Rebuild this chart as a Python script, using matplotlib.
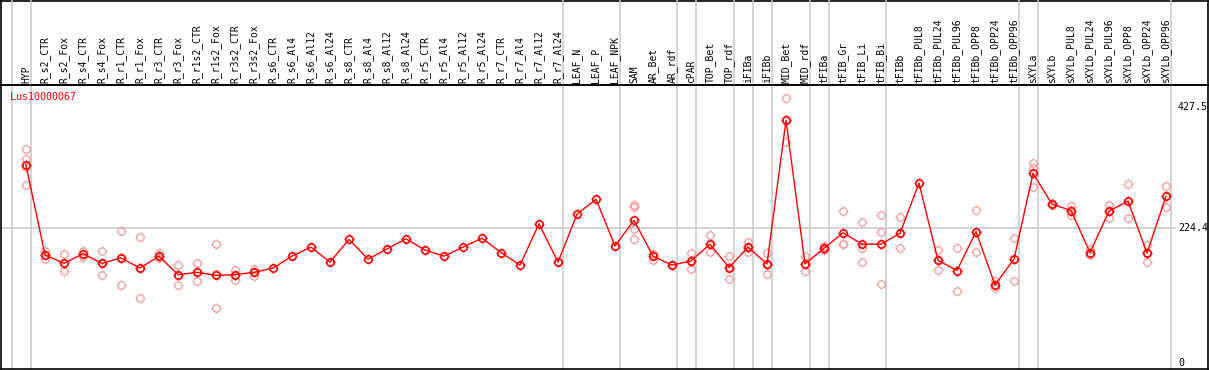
import matplotlib
matplotlib.use("Agg")
import matplotlib.pyplot as plt
from matplotlib.path import Path
import numpy as np

nan = np.nan

labels = ["HYP", "R_s2_CTR", "R_s2_Fox", "R_s4_CTR", "R_s4_Fox", "R_r1_CTR", "R_r1_Fox",
          "R_r3_CTR", "R_r3_Fox", "R_r1s2_CTR", "R_r1s2_Fox", "R_r3s2_CTR", "R_r3s2_Fox",
          "R_s6_CTR", "R_s6_Al4", "R_s6_Al12", "R_s6_Al24", "R_s8_CTR", "R_s8_Al4", "R_s8_Al12",
          "R_s8_Al24", "R_r5_CTR", "R_r5_Al4", "R_r5_Al12", "R_r5_Al24", "R_r7_CTR", "R_r7_Al4",
          "R_r7_Al12", "R_r7_Al24", "LEAF_N", "LEAF_P", "LEAF_NPK", "SAM", "AR_Bet", "AR_rdf",
          "cPAR", "TOP_Bet", "TOP_rdf", "iFIBa", "iFIBb", "MID_Bet", "MID_rdf", "tFIBa",
          "tFIB_Gr", "tFIB_Li", "tFIB_Bi", "tFIBb", "tFIBb_PUL8", "tFIBb_PUL24", "tFIBb_PUL96",
          "tFIBb_OPP8", "tFIBb_OPP24", "tFIBb_OPP96", "sXYLa", "sXYLb", "sXYLb_PUL8",
          "sXYLb_PUL24", "sXYLb_PUL96", "sXYLb_OPP8", "sXYLb_OPP24", "sXYLb_OPP96"]

means = [330, 180, 166, 182, 166, 175, 158, 178, 147, 151, 146, 147, 151,
         158, 178, 193, 168, 206, 173, 190, 207, 188, 178, 193, 208, 184, 163,
         232, 168, 248, 273, 195, 238, 178, 163, 170, 198, 159, 193, 165, 405,
         165, 191, 217, 198, 198, 216, 300, 171, 154, 219, 130, 173, 316, 265,
         254, 184, 253, 270, 183, 278]

rep1 = [357, 187, 181, 187, 187, 220, 210, 183, 163, 166, 199, 155, 156.5,
        nan, nan, nan, nan, nan, nan, nan, nan, nan, nan, nan, nan, nan, nan,
        nan, nan, nan, nan, nan, 263, 181.5, 163, 183, 213, 178, 201, 183, 442,
        178, 195.5, 253, 234.5, 246.7, 243, nan, 187.7, 191, 254.5, 136.5, 207.8, 333, 266,
        261.8, 190, 262.9, 298, 197.1, 294.6]
rep2 = [341, 180, 166, 182, 166, 175, 158, 178, 147, 151, 148, 147, 151,
        nan, nan, nan, nan, nan, nan, nan, nan, nan, nan, nan, nan, nan, nan,
        nan, nan, nan, nan, nan, 260, 181.5, 163, 170, 198, 160, 192, 164, 405,
        165, 190, 199, 191, 217.8, 216, nan, 171, 154, 219, 130, 172.7, 326, 264,
        254.5, 184, 254, 269.6, 183.2, 278]
rep3 = [327, 173, 153, 176, 146, 130, 107.5, 175, 130, 136, 91, 138, 145,
        nan, nan, nan, nan, nan, nan, nan, nan, nan, nan, nan, nan, nan, nan,
        nan, nan, nan, nan, nan, 224, 171.5, 163, 156, 185, 139, 185, 148, 368,
        152.6, 187.5, 199, 167.7, 130.9, 191, nan, 154.3, 119, 184.4, 124.8, 136.5, 293, 264,
        247.3, 180, 241.2, 241.7, 168.7, 259.6]
rep4 = [296] + [nan] * 31 + [206] + [nan] * 28

group_ends = [-1, 0, 28, 31, 34, 35, 37, 38, 39, 41, 42, 45, 52, 53, 60]
ref_ticks = [427.5, 224.4, 0]

W, H = 1209, 370
fig = plt.figure(figsize=(W / 100, H / 100), dpi=100)

# header box behind, plot area on top: x 1..1208 px, y 85..369 px (from top)
hdr = fig.add_axes([1 / W, 285 / H, 1207 / W, 84.5 / H], zorder=0)
ax = fig.add_axes([1 / W, 1 / H, 1207 / W, 284 / H], zorder=1)
ax.patch.set_visible(False)
for a in (ax, hdr):
    a.set_xticks([])
    a.set_yticks([])
    for s in a.spines.values():
        s.set_color("black")
        s.set_linewidth(1.2)
hdr.set_xlim(0, 1)
hdr.set_ylim(0, 1)

x = np.arange(len(labels))
ax.set_xlim(-1.316, 62.21)
ax.set_ylim(-10.5, 463.8)

# four small ticks around the circle marker
tk = Path([(0, 1), (0, 1.45), (0, -1), (0, -1.45), (1, 0), (1.45, 0), (-1, 0), (-1.45, 0)],
          [Path.MOVETO, Path.LINETO] * 4)
ms = 5.3

# separators
for g in group_ends:
    ax.axvline(g + 0.24, ymin=0, ymax=369 / 284, color="#c8c8c8", lw=1.1,
               clip_on=False, zorder=1)
ax.hlines(224.4, -1.316, 60.53, color="#c8c8c8", lw=1.1, zorder=1)

for r in (rep1, rep2, rep3, rep4):
    ax.plot(x, r, linestyle="none", marker="o", markersize=ms, markerfacecolor="none",
            markeredgecolor="#f09a9a", markeredgewidth=0.9, zorder=2)
    ax.plot(x, r, linestyle="none", marker=tk, markersize=ms * 1.45,
            markeredgecolor="#f09a9a", markeredgewidth=0.9, zorder=2)

ax.plot(x, means, color="red", lw=1.0, zorder=3)
ax.plot(x, means, linestyle="none", marker="o", markersize=ms, markerfacecolor="none",
        markeredgecolor="red", markeredgewidth=1.2, zorder=4)
ax.plot(x, means, linestyle="none", marker=tk, markersize=ms * 1.45,
        markeredgecolor="red", markeredgewidth=1.0, zorder=4)

font = "DejaVu Sans Mono"
for i, lab in enumerate(labels):
    ax.text(i, 1.007, lab, transform=ax.get_xaxis_transform(), rotation=90,
            ha="center", va="bottom", fontsize=7, family=font, clip_on=False)

for v in ref_ticks:
    lab = f"{v:g}"
    ax.text(60.63, v, lab, ha="left", va="center", fontsize=7.2, family=font)

ax.text(0.0075, 0.958, "Lus10000067", transform=ax.transAxes, color="red",
        ha="left", va="center", fontsize=7.2, family=font, zorder=5)

fig.savefig("out.png", dpi=100)
